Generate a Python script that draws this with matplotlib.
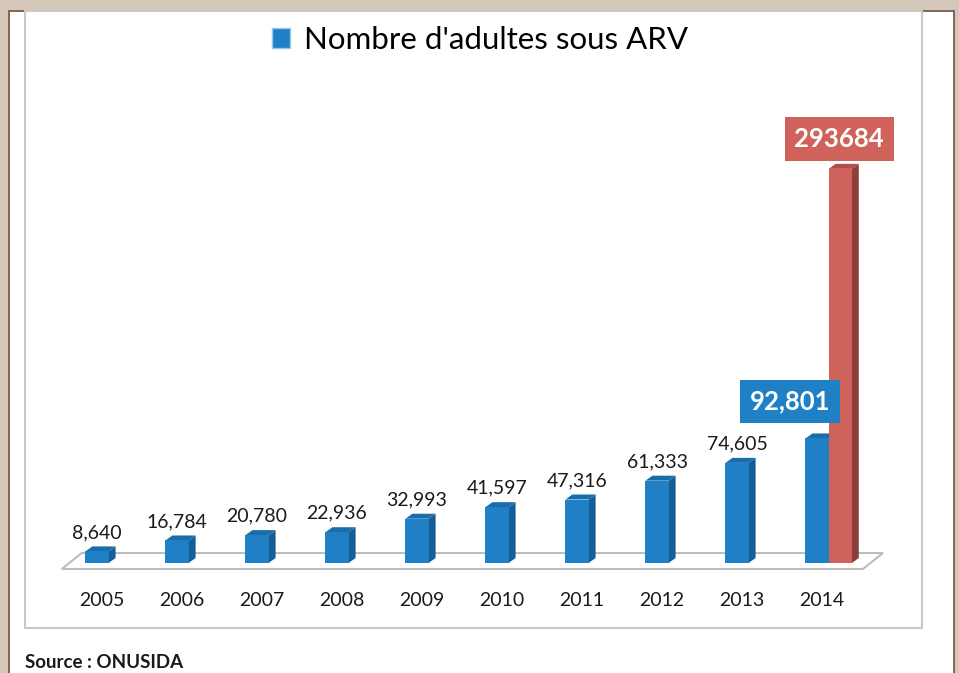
import matplotlib.pyplot as plt
import matplotlib.transforms as mtransforms
from matplotlib.patches import Polygon, Rectangle, Patch
import numpy as np

plt.rcParams['font.family'] = ['Lato', 'DejaVu Sans']

# Données
annees = ['2005', '2006', '2007', '2008', '2009', '2010', '2011', '2012', '2013', '2014']
adultes_arv = [8640, 16784, 20780, 22936, 32993, 41597, 47316, 61333, 74605, 92801]
valeur_2014_rouge = 293684
etiquettes = ['8,640', '16,784', '20,780', '22,936', '32,993', '41,597', '47,316', '61,333', '74,605', '92,801']

bleu, bleu_cote, bleu_haut = '#1f80c6', '#165e95', '#1a6dab'
rouge, rouge_cote, rouge_haut = '#cf625b', '#8e3e39', '#b04f49'

W, H = 959, 673
fig = plt.figure(figsize=(W / 100, H / 100), dpi=100)
fig.patch.set_facecolor('#d5c7ba')

# page blanche + cadre du graphique
fig.patches.append(Rectangle((9 / W, -0.01), 945 / W, 662 / H + 0.01, transform=fig.transFigure,
                             facecolor='white', edgecolor='#6e5040', lw=1.2, zorder=-3))
fig.patches.append(Rectangle((25 / W, 45 / H), 897 / W, 617 / H, transform=fig.transFigure,
                             facecolor='none', edgecolor='#c8c8c8', lw=1.5, zorder=-2))

ax = fig.add_axes([57 / W, (H - 563) / H, 840 / W, 463 / H])
ax.set_xlim(-0.5, 10.0)
ax.set_ylim(0, 345000)
ax.axis('off')

def decal(dx, dy):
    return mtransforms.offset_copy(ax.transData, fig=fig, x=dx, y=dy, units='dots')

larg = 0.29
prof_x, prof_y = 7, 5

# sol en perspective
sol_avant = decal(0, -6)
sol_arriere = decal(20, 10)
x0, x1 = -0.44, 9.575
pts = [sol_avant.transform((x0, 0)), sol_avant.transform((x1, 0)),
       sol_arriere.transform((x1, 0)), sol_arriere.transform((x0, 0))]
ax.add_patch(Polygon(pts, closed=True, transform=None, facecolor='white',
                     edgecolor='#bdbdbd', lw=1.5, zorder=1, clip_on=False))

def barre_3d(xc, v, face, cote, haut):
    xl, xr = xc - larg / 2, xc + larg / 2
    ax.bar(xc, v, width=larg, color=face, zorder=3)
    arr = decal(prof_x, prof_y)
    p0 = ax.transData.transform
    cote_pts = [p0((xr, 0)), arr.transform((xr, 0)), arr.transform((xr, v)), p0((xr, v))]
    haut_pts = [p0((xl, v)), p0((xr, v)), arr.transform((xr, v)), arr.transform((xl, v))]
    ax.add_patch(Polygon(cote_pts, closed=True, transform=None, facecolor=cote, lw=0,
                         zorder=2, clip_on=False))
    ax.add_patch(Polygon(haut_pts, closed=True, transform=None, facecolor=haut, lw=0,
                         zorder=2, clip_on=False))

x = np.arange(len(annees))
for i, v in enumerate(adultes_arv):
    barre_3d(x[i], v, bleu, bleu_cote, bleu_haut)
barre_3d(x[-1] + larg, valeur_2014_rouge, rouge, rouge_cote, rouge_haut)

# étiquettes de valeurs
for i, v in enumerate(adultes_arv[:-1]):
    ax.text(x[i], v, etiquettes[i], transform=decal(0, 19), ha='center', va='center',
            fontsize=14, color='#1a1a1a', zorder=5)
ax.text(x[-1], adultes_arv[-1], etiquettes[-1], transform=decal(-27, 37), ha='center',
        va='center', fontsize=18.5, fontweight='bold', color='white', zorder=5,
        bbox=dict(boxstyle='square,pad=0.38', facecolor=bleu, edgecolor='none'))
ax.text(x[-1] + larg, valeur_2014_rouge, f'{valeur_2014_rouge}', transform=decal(-1, 30),
        ha='center', va='center', fontsize=18.5, fontweight='bold', color='white', zorder=5,
        bbox=dict(boxstyle='square,pad=0.38', facecolor=rouge, edgecolor='none'))

# années
for i, a in enumerate(annees):
    ax.text(x[i], 0, a, transform=decal(5, -37), ha='center', va='center',
            fontsize=14, color='#1a1a1a')

# légende
fig.legend(handles=[Patch(facecolor=bleu, edgecolor='#9cc8e8', label="Nombre d'adultes sous ARV")],
           loc='center', bbox_to_anchor=(480 / W, 1 - 40 / H), frameon=False, fontsize=22.5,
           handlelength=0.6, handleheight=0.6, handletextpad=0.45)

fig.text(25 / W, 1 - 663 / H, 'Source : ONUSIDA', fontsize=13.5, fontweight='bold',
         ha='left', va='center', color='#1a1a1a')

fig.savefig('out.png', dpi=100)
